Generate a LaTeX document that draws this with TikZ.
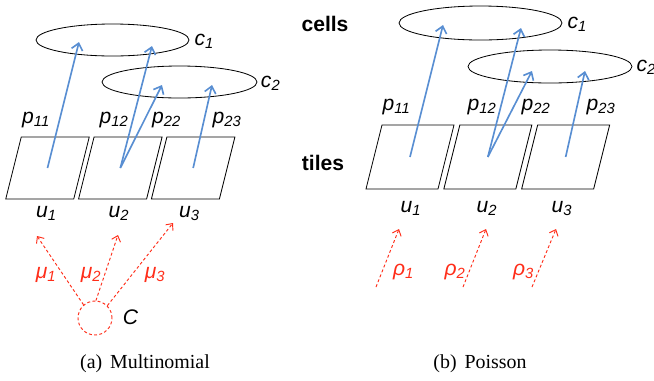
\documentclass[tikz,border=0pt]{standalone}
\usepackage{fontspec}
\setmainfont{Liberation Serif}
\setsansfont{Liberation Sans}
\usetikzlibrary{shapes.geometric,arrows.meta,positioning}
\definecolor{linkblue}{RGB}{88,142,210}
\definecolor{ratered}{RGB}{255,45,25}
\newcommand{\sublab}[2]{#1\textsubscript{#2}}
\tikzset{
	tile/.style = {
		draw, 
		line width=0.7pt, 
		minimum width=2.04cm, 
		minimum height=1.86cm, 
		xslant=0.25, 
		inner sep=0pt
	},
	cell/.style = {
		draw, 
		ellipse, 
		line width=0.7pt, 
		minimum width=4.6cm, 
		minimum height=0.96cm, 
		inner sep=0pt
	},
	link/.style = {
		-{Straight Barb[length=2mm,width=3.4mm]}, 
		linkblue, 
		line width=1.4pt
	},
	rate/.style = {
		-{Straight Barb[length=1.6mm,width=2.8mm]}, 
		ratered, 
		line width=0.8pt, 
		dash pattern=on 2.5pt off 2pt
	},
	lbl/.style = {
		font=\sffamily\itshape\fontsize{18}{20}\selectfont, 
		inner sep=0pt, 
		anchor=base
	},
	side/.style = {
		font=\sffamily\bfseries\fontsize{18}{20}\selectfont, 
		inner sep=0pt, 
		anchor=base
	},
	capt/.style = {
		font=\rmfamily\fontsize{17}{20}\selectfont, 
		inner sep=0pt, 
		anchor=base
	}
}

\begin{document}
\begin{tikzpicture}[x=0.03cm, y=-0.03cm]
	\useasboundingbox (0,0) rectangle (654,380);
	
	% --- (a) Multinomial ---
	\node [cell, minimum width=4.59cm] (ca1) at (112.5,40) {};
	\node [cell, minimum width=4.65cm] (ca2) at (179.5,82) {};
	\node [lbl, anchor=base west] (lca1) at ([xshift=0.15cm, yshift=-0.15cm]ca1.east) {\sublab{c}{1}};
	\node [lbl, anchor=base west] (lca2) at ([xshift=0.1cm, yshift=-0.15cm]ca2.east) {\sublab{c}{2}};
	
	\node [tile] (ta1) at (47.5,168) {};
	\node [tile, right=0.12cm of ta1] (ta2) {};
	\node [tile, right=0.12cm of ta2] (ta3) {};
	
	\coordinate (ea11) at (79,42);
	\coordinate (ea12) at (152,46);
	\coordinate (ea22) at (162,85);
	\coordinate (ea23) at (212,85);
	\draw [link] (ta1.center) -- (ea11);
	\draw [link] (ta2.center) -- (ea12);
	\draw [link] (ta2.center) -- (ea22);
	\draw [link] (ta3.center) -- (ea23);
	
	\node [lbl] (pa11) at (36,123) {\sublab{p}{11}};
	\node [lbl] (pa12) at (114,123) {\sublab{p}{12}};
	\node [lbl] (pa22) at (166.5,123) {\sublab{p}{22}};
	\node [lbl] (pa23) at (227,123) {\sublab{p}{23}};
	
	\node [lbl] (ua1) at (46.5,217) {\sublab{u}{1}};
	\node [lbl] (ua2) at (119,217) {\sublab{u}{2}};
	\node [lbl] (ua3) at (189.5,217) {\sublab{u}{3}};
	
	% la fuente comun C reparte a los tres tiles
	\node [draw=ratered, circle, dash pattern=on 2.5pt off 2pt, line width=0.8pt, minimum size=1.02cm, inner sep=0pt] (src) at (95,318) {};
	\node [lbl] (lsrc) at (130.5,324) {C};
	\coordinate (ra1) at (37,236);
	\coordinate (ra2) at (118,235);
	\coordinate (ra3) at (173,223);
	\draw [rate] (src.131) -- (ra1);
	\draw [rate] (src.87) -- (ra2);
	\draw [rate] (src.45) -- (ra3);
	\node [lbl, ratered] (mu1) at (46,278) {\sublab{μ}{1}};
	\node [lbl, ratered] (mu2) at (91,278) {\sublab{μ}{2}};
	\node [lbl, ratered] (mu3) at (155,278) {\sublab{μ}{3}};
	
	\node [capt] (capa) at (145,368) {(a)\hspace{0.4em}Multinomial};
	
	% --- etiquetas del medio ---
	\node [side] (cells) at (325,31) {cells};
	\node [side] (tiles) at (323,170) {tiles};
	
	% --- (b) Poisson ---
	\node [cell, minimum width=4.89cm, minimum height=1.02cm] (cb1) at (480.5,23) {};
	\node [cell, minimum width=4.92cm, minimum height=0.99cm] (cb2) at (550,66.5) {};
	\node [lbl, anchor=base west] (lcb1) at ([xshift=0.15cm, yshift=-0.15cm]cb1.east) {\sublab{c}{1}};
	\node [lbl, anchor=base west] (lcb2) at ([xshift=0.12cm, yshift=-0.15cm]cb2.east) {\sublab{c}{2}};
	
	\node [tile, minimum width=2.16cm, minimum height=1.92cm] (tb1) at (410,157) {};
	\node [tile, minimum width=2.16cm, minimum height=1.92cm, right=0.15cm of tb1] (tb2) {};
	\node [tile, minimum width=2.16cm, minimum height=1.92cm, right=0.15cm of tb2] (tb3) {};
	
	\coordinate (eb11) at (443,25);
	\coordinate (eb12) at (521,28);
	\coordinate (eb22) at (532,71);
	\coordinate (eb23) at (585,71);
	\draw [link] (tb1.center) -- (eb11);
	\draw [link] (tb2.center) -- (eb12);
	\draw [link] (tb2.center) -- (eb22);
	\draw [link] (tb3.center) -- (eb23);
	
	\node [lbl] (pb11) at (396.5,110) {\sublab{p}{11}};
	\node [lbl] (pb12) at (482,110) {\sublab{p}{12}};
	\node [lbl] (pb22) at (536,110) {\sublab{p}{22}};
	\node [lbl] (pb23) at (601,110) {\sublab{p}{23}};
	
	\node [lbl] (ub1) at (411,212) {\sublab{u}{1}};
	\node [lbl] (ub2) at (487,212) {\sublab{u}{2}};
	\node [lbl] (ub3) at (562,212) {\sublab{u}{3}};
	
	% cada tile tiene su propia tasa
	\coordinate (sb1) at (376,287);
	\coordinate (sb2) at (463,287);
	\coordinate (sb3) at (532,287);
	\coordinate (rb1) at (399,229);
	\coordinate (rb2) at (486,229);
	\coordinate (rb3) at (556,229);
	\draw [rate] (sb1) -- (rb1);
	\draw [rate] (sb2) -- (rb2);
	\draw [rate] (sb3) -- (rb3);
	\node [lbl, ratered] (rho1) at (403.5,275) {\sublab{ρ}{1}};
	\node [lbl, ratered] (rho2) at (455,275) {\sublab{ρ}{2}};
	\node [lbl, ratered] (rho3) at (523.5,275) {\sublab{ρ}{3}};
	
	\node [capt] (capb) at (480,368) {(b)\hspace{0.4em}Poisson};
	
\end{tikzpicture}
\end{document}
